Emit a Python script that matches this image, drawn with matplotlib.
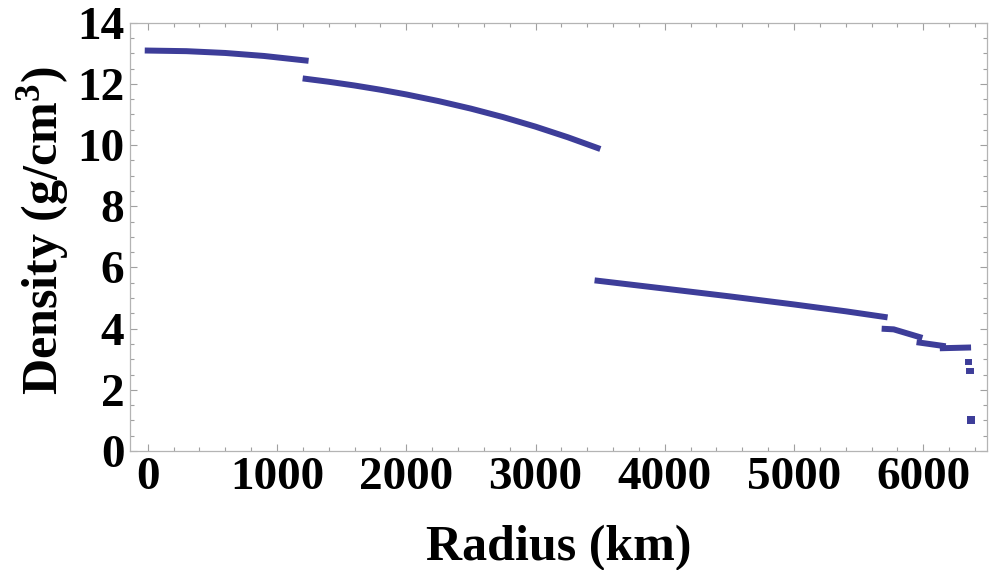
import matplotlib
matplotlib.use("Agg")
import matplotlib.pyplot as plt
from matplotlib.ticker import MultipleLocator

# density profile, one list pair per layer
r_inner = [0, 300, 600, 900, 1221.5]
rho_inner = [13.089, 13.069, 13.010, 12.912, 12.764]

r_outer = [1221.5, 1400, 1600, 1800, 2000, 2250, 2500, 2750, 3000, 3250, 3480]
rho_outer = [12.166, 12.069, 11.947, 11.809, 11.655, 11.437, 11.191, 10.913, 10.602, 10.255, 9.904]

r_lower = [3480, 4000, 4500, 5000, 5400, 5701]
rho_lower = [5.566, 5.307, 5.055, 4.790, 4.566, 4.381]

r_trans = [5701, 5771, 5971]
rho_trans = [3.992, 3.976, 3.724]

r_lvz = [5971, 6151]
rho_lvz = [3.543, 3.436]

r_lid = [6151, 6346.6]
rho_lid = [3.360, 3.381]

r_crust1 = [6346.6, 6356]
rho_crust1 = [2.9, 2.9]

r_crust2 = [6356, 6368]
rho_crust2 = [2.6, 2.6]

r_ocean = [6368, 6371]
rho_ocean = [1.02, 1.02]

layers = [(r_inner, rho_inner), (r_outer, rho_outer), (r_lower, rho_lower),
          (r_trans, rho_trans), (r_lvz, rho_lvz), (r_lid, rho_lid),
          (r_crust1, rho_crust1), (r_crust2, rho_crust2)]

plt.rcParams['font.family'] = ['Liberation Serif', 'DejaVu Serif']
plt.rcParams['font.weight'] = 'bold'
plt.rcParams['mathtext.fontset'] = 'custom'
plt.rcParams['mathtext.rm'] = 'Liberation Serif:bold'
plt.rcParams['mathtext.it'] = 'Liberation Serif:bold'
plt.rcParams['mathtext.bf'] = 'Liberation Serif:bold'
plt.rcParams['path.simplify'] = False

fig = plt.figure(figsize=(9.94, 5.70), dpi=100)
ax = fig.add_axes([0.1308, 0.2088, 0.8619, 0.7514])

col = '#3d3d99'
for r, rho in layers:
    ax.plot(r, rho, color=col, linewidth=4.3, solid_capstyle='projecting')
# the thin ocean layer is narrower than a pixel, so show it as a square mark
ax.plot(r_ocean, rho_ocean, color=col, linewidth=4.3, solid_capstyle='projecting',
        marker='s', markersize=5.5, markeredgewidth=0)

ax.set_xlim(-137, 6491)
ax.set_ylim(0, 14)
ax.xaxis.set_major_locator(MultipleLocator(1000))
ax.xaxis.set_minor_locator(MultipleLocator(200))
ax.yaxis.set_major_locator(MultipleLocator(2))
ax.yaxis.set_minor_locator(MultipleLocator(0.5))

for s in ax.spines.values():
    s.set_color('#b4b4b4')
    s.set_linewidth(0.9)
ax.tick_params(which='both', direction='in', top=True, right=True, color='#a0a0a0', width=0.8)
ax.tick_params(which='major', length=5, labelsize=34)
ax.tick_params(which='minor', length=3)
ax.tick_params(axis='x', pad=4)
ax.tick_params(axis='y', pad=4)

ax.set_xlabel('Radius (km)', fontsize=36, fontweight='bold')
ax.set_ylabel(r'Density (g/cm$^3$)', fontsize=36, fontweight='bold')
ax.xaxis.set_label_coords(0.5, -0.172)
ax.yaxis.set_label_coords(-0.069, 0.515)

fig.savefig('out.png', dpi=100)
